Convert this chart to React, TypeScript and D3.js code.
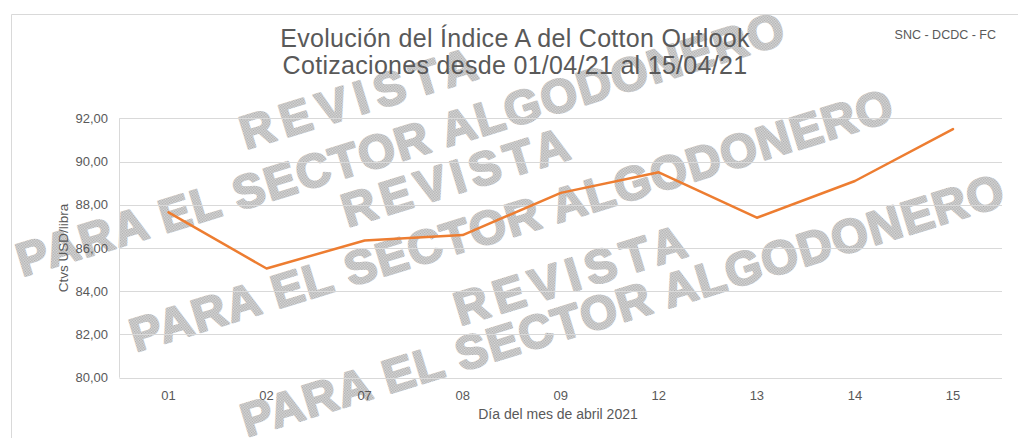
import React from "react";
import * as d3 from "d3";

// Índice A del Cotton Outlook, abril 2021 (ctvs USD/libra)
const days = ["01", "02", "07", "08", "09", "12", "13", "14", "15"];
const cottonIndexA = [87.65, 85.05, 86.35, 86.6, 88.55, 89.5, 87.4, 89.1, 91.5];
const yTicks = [80, 82, 84, 86, 88, 90, 92];

const titleLines = [
    "Evolución del Índice A del Cotton Outlook",
    "Cotizaciones desde 01/04/21 al 15/04/21",
];
const sourceNote = "SNC - DCDC - FC";
const xTitle = "Día del mes de abril 2021";
const yTitle = "Ctvs USD/libra";

// watermark texts
const markTexts = [
    "PARA EL SECTOR ALGODONERO",
    "REVISTA",
    "PARA EL SECTOR ALGODONERO",
    "REVISTA",
    "PARA EL SECTOR ALGODONERO",
    "REVISTA",
];

const W = 1018;
const H = 438;
const plot = {left: 119.5, right: 1002, top: 118.3, bottom: 377.7};
const grey = "#595959";
const font = "'Liberation Sans', Arial, sans-serif";

// where each watermark sits: centre, length, angle
const markPlaces = [
    {cx: 400, cy: 144, len: 800, rot: -17},
    {cx: 358, cy: 98, len: 245, rot: -17},
    {cx: 511, cy: 220, len: 795, rot: -17},
    {cx: 455, cy: 177, len: 235, rot: -17},
    {cx: 622, cy: 305, len: 795, rot: -17},
    {cx: 570, cy: 275, len: 240, rot: -17},
];

const fmt = (v: number) => d3.format(".2f")(v).replace(".", ",");

const App = () => {
    const x = d3.scaleBand<string>().domain(days).range([plot.left, plot.right]).padding(0);
    const y = d3.scaleLinear().domain([80, 92]).range([plot.bottom, plot.top]);
    const cx = (d: string) => (x(d) as number) + x.bandwidth() / 2;

    const line = d3.line<number>()
        .x((_, i) => cx(days[i]))
        .y(v => y(v));

    return (
        <svg width={W} height={H} viewBox={`0 0 ${W} ${H}`}
             style={{position: "absolute", left: 0, top: 0, display: "block", background: "#fff"}}>
            <defs>
                <pattern id="dots" width={2} height={2} patternUnits="userSpaceOnUse">
                    <rect width={2} height={2} fill="#dcdcdc"/>
                    <rect width={1} height={1} fill="#a9a9a9"/>
                    <rect x={1} y={1} width={1} height={1} fill="#b4b4b4"/>
                </pattern>
            </defs>

            {/* chart border */}
            <line x1={11.5} x2={11.5} y1={14.5} y2={H} stroke="#d9d9d9"/>
            <line x1={11.5} x2={W} y1={14.5} y2={14.5} stroke="#d9d9d9"/>

            {/* watermark */}
            <g fontFamily={font} fontWeight="bold" fontSize={47} fill="url(#dots)"
               stroke="url(#dots)" strokeWidth={2.2} strokeLinejoin="round">
                {markTexts.map((t, i) => {
                    const p = markPlaces[i];
                    return (
                        <text key={i} x={p.cx} y={p.cy} textAnchor="middle" dominantBaseline="central"
                              textLength={p.len} lengthAdjust="spacing"
                              transform={`rotate(${p.rot},${p.cx},${p.cy})`}>{t}</text>
                    );
                })}
            </g>

            {/* grid */}
            <g stroke="#d9d9d9" strokeWidth={1}>
                {yTicks.map(t => (
                    <line key={t} x1={plot.left} x2={plot.right} y1={Math.round(y(t)) + 0.5} y2={Math.round(y(t)) + 0.5}/>
                ))}
                <line x1={plot.left} x2={plot.left} y1={plot.top} y2={plot.bottom}/>
            </g>

            {/* y tick labels */}
            <g fontFamily={font} fontSize={13} fill={grey} textAnchor="end">
                {yTicks.map(t => (
                    <text key={t} x={108} y={y(t) + 4.5}>{fmt(t)}</text>
                ))}
            </g>

            {/* x tick labels */}
            <g fontFamily={font} fontSize={13} fill={grey} textAnchor="middle">
                {days.map(d => (
                    <text key={d} x={cx(d)} y={400}>{d}</text>
                ))}
            </g>

            <text x={558} y={419} fontFamily={font} fontSize={14} fill={grey} textAnchor="middle">{xTitle}</text>
            <text transform="translate(68,248) rotate(-90)" fontFamily={font} fontSize={13.5} fill={grey}
                  textAnchor="middle">{yTitle}</text>

            {/* titles */}
            <g fontFamily={font} fontSize={25} fill={grey} textAnchor="middle">
                {titleLines.map((t, i) => (
                    <text key={i} x={515} y={47 + i * 27} letterSpacing={0.3}>{t}</text>
                ))}
            </g>
            <text x={996} y={39} fontFamily={font} fontSize={12.5} fill={grey} textAnchor="end">{sourceNote}</text>

            {/* series */}
            <path d={line(cottonIndexA) || ""} fill="none" stroke="#ED7D31" strokeWidth={2.5}
                  strokeLinejoin="round" strokeLinecap="round"/>
        </svg>
    );
};

export default App;
